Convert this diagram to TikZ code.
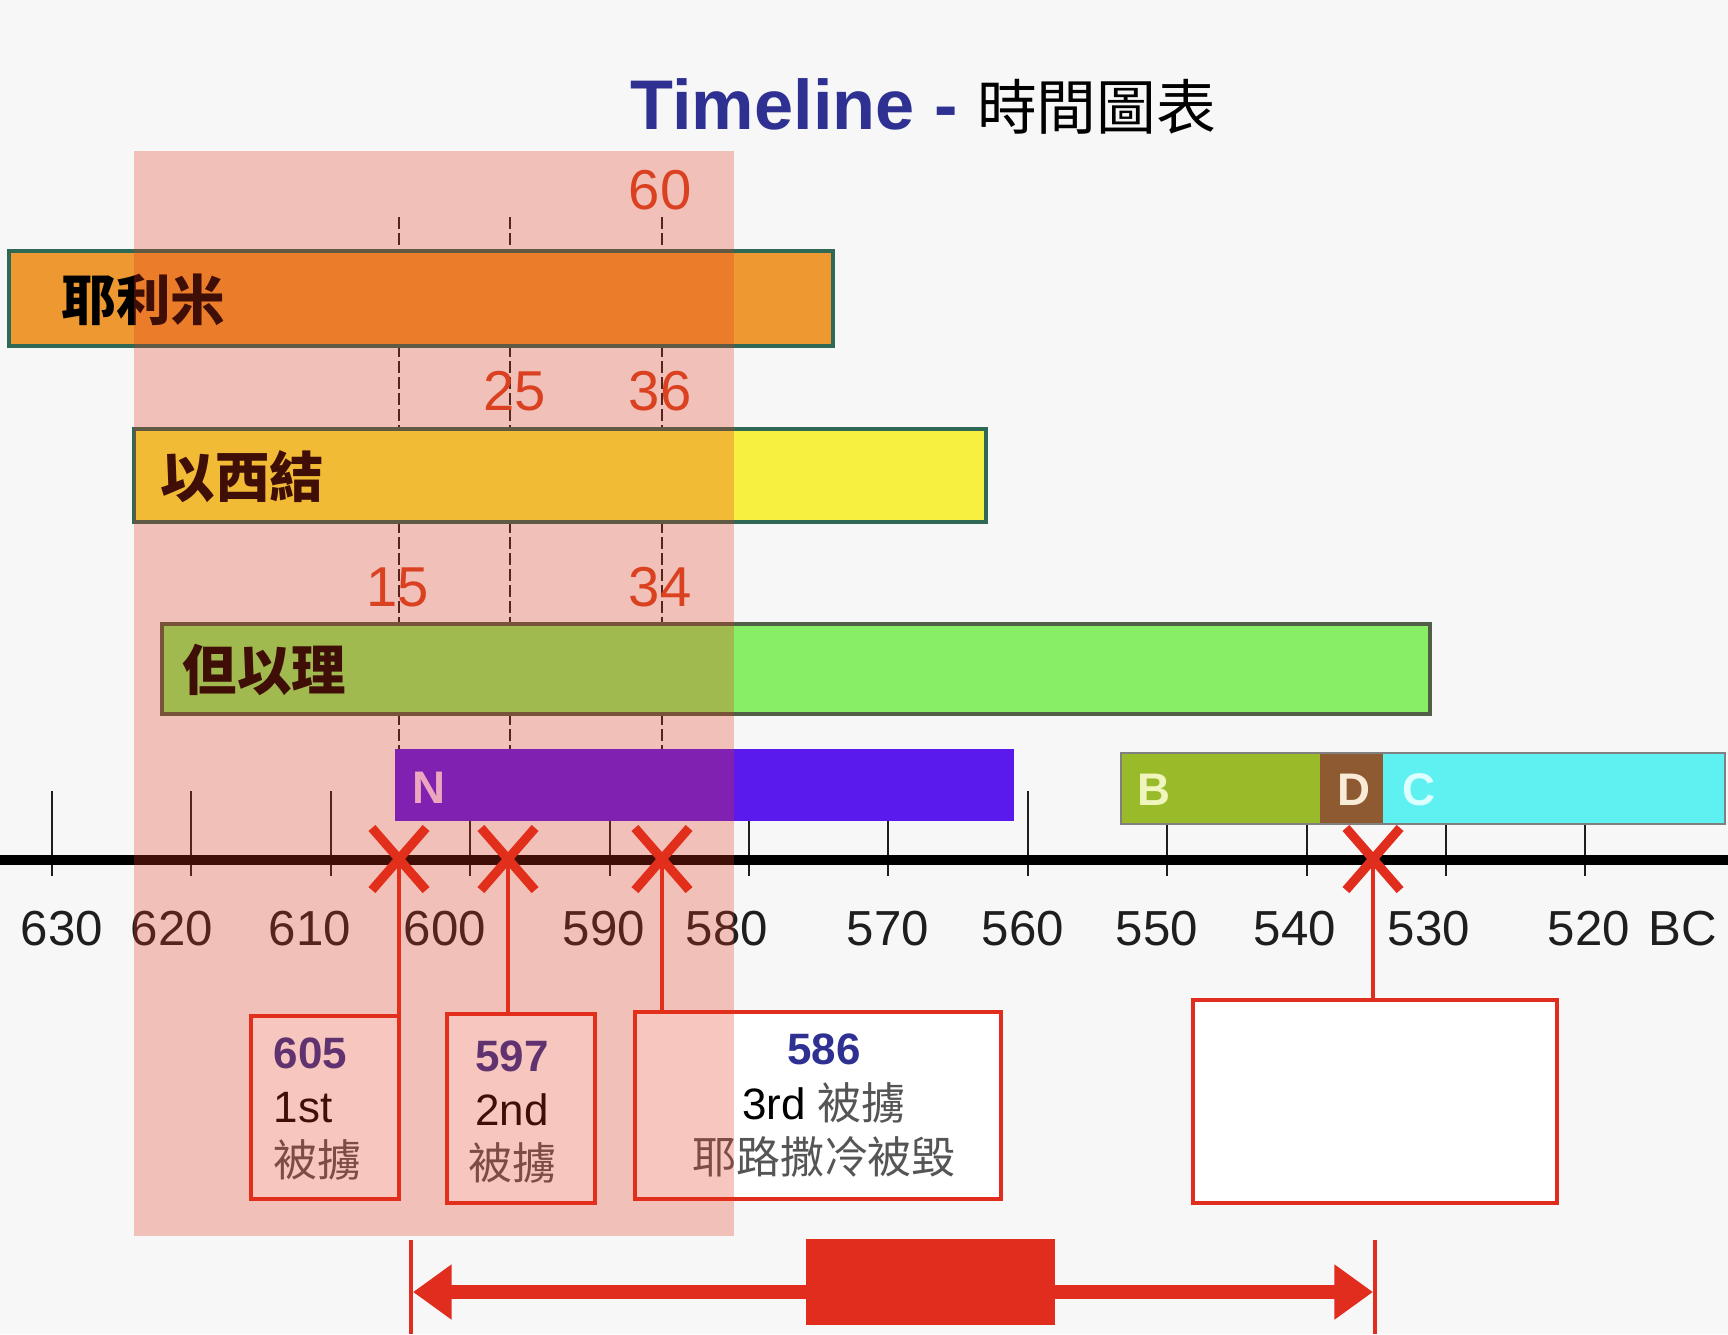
\documentclass[tikz,border=0pt]{standalone}
\usepackage{fontspec}
\setmainfont{Liberation Sans}
\newfontfamily\cjk{Noto Sans CJK TC}
\usetikzlibrary{arrows.meta,shapes.misc}
\definecolor{bgc}{RGB}{247,247,247}
\definecolor{navy}{RGB}{46,49,146}
\definecolor{orng}{RGB}{237,152,49}
\definecolor{tealb}{RGB}{45,105,85}
\definecolor{yel}{RGB}{248,240,64}
\definecolor{grn}{RGB}{136,238,102}
\definecolor{grnb}{RGB}{80,95,70}
\definecolor{nblue}{RGB}{90,26,238}
\definecolor{bgrn}{RGB}{153,187,42}
\definecolor{dbrn}{RGB}{142,90,50}
\definecolor{cyn}{RGB}{95,240,242}
\definecolor{mred}{RGB}{225,45,30}
\definecolor{spancol}{RGB}{229,53,25}
\definecolor{cntred}{RGB}{215,70,35}
\definecolor{axtxt}{RGB}{30,30,30}
\definecolor{soft}{RGB}{85,85,85}

\begin{document}
\begin{tikzpicture}[x=0.1mm,y=-0.1mm,every node/.style={font=\fontsize{14}{16}\selectfont}]
  \tikzset{
    bar/.style={line width=1.2pt},
    tag/.style={font=\cjk\bfseries\fontsize{15.5}{18}\selectfont, anchor=west, inner sep=0pt},
    lbl/.style={font=\bfseries\fontsize{13}{15}\selectfont, inner sep=0pt},
    yr/.style={font=\fontsize{14}{16}\selectfont, text=axtxt, inner sep=0pt},
    cnt/.style={font=\fontsize{16}{18}\selectfont, text=cntred, inner sep=0pt},
    xmark/.style={cross out, draw=mred, line width=2.6pt, minimum width=4.5mm, minimum height=5.3mm, inner sep=0pt},
    box/.style={draw=mred, line width=1.3pt, fill=white, inner sep=0pt},
    note/.style={font=\fontsize{12.5}{15.5}\selectfont, inner sep=0pt},
    link/.style={draw=mred, line width=1pt},
    bigarr/.style={draw=mred, line width=3.8pt, arrows={Triangle[length=11pt,width=15pt]-Triangle[length=11pt,width=15pt]}}
  }
  \useasboundingbox (0,0) rectangle (1728,1334);
  \fill[bgc] (0,0) rectangle (1728,1334);

  \node[anchor=base west, inner sep=0pt, font=\bfseries\fontsize{20}{24}\selectfont, text=navy] (title) at (630,129)
    {Timeline -~{\cjk\mdseries\fontsize{17}{20}\selectfont\color{black}時間圖表}};

  % guide lines behind the bars
  \foreach \x in {399,510,662}
    \draw[axtxt, line width=0.4pt, dash pattern=on 1.2mm off 0.4mm] (\x,217) -- (\x,749);

  \draw[bar, draw=tealb, fill=orng] (9,251) rectangle (833,346);
  \node[tag] (jer) at (61,300) {耶利米};
  \draw[bar, draw=tealb, fill=yel] (134,429) rectangle (986,522);
  \node[tag] (eze) at (160,477) {以西結};
  \draw[bar, line width=1pt, draw=grnb, fill=grn] (162,624) rectangle (1430,714);
  \node[tag] (dan) at (182,670) {但以理};

  \node[cnt] (n60) at (660,190) {60};
  \node[cnt] (n25) at (515,391) {25};
  \node[cnt] (n36) at (660,391) {36};
  \node[cnt] (n15) at (398,587) {15};
  \node[cnt] (n34) at (660,587) {34};

  % axis
  \foreach \y in {630,620,...,520}
    \draw[axtxt, line width=0.6pt] ({52+(630-\y)*13.94},791) -- ++(0,85);
  \fill[nblue] (395,749) rectangle (1014,821);
  \node[lbl, text={rgb,255:red,240;green,210;blue,255}] (nb) at (429,788) {N};
  \fill[bgrn] (1121,753) rectangle (1320,824);
  \fill[dbrn] (1320,753) rectangle (1383,824);
  \fill[cyn] (1383,753) rectangle (1725,824);
  \draw[gray, line width=0.5pt] (1121,753) rectangle (1725,824);
  \node[lbl, text={rgb,255:red,240;green,245;blue,190}] (bb) at (1154,790) {B};
  \node[lbl, text={rgb,255:red,250;green,235;blue,215}] (db) at (1354,790) {D};
  \node[lbl, text={rgb,255:red,220;green,255;blue,255}] (cb) at (1419,790) {C};
  \draw[black, line width=2.6pt] (0,860) -- (1728,860);

  \foreach \y/\lx in {630/62,620/172,610/310,600/445,590/604,580/727,570/888,560/1023,550/1157,540/1295,530/1429,520/1589}
    \node[yr] (l\y) at (\lx,929) {\y};
  \node[yr] (bc) at (1683,929) {BC};

  % events
  \node[box, minimum width=14.8mm, minimum height=18.3mm] (b605) at (325,1107.5) {};
  \node[box, minimum width=14.8mm, minimum height=18.9mm] (b597) at (521,1108.5) {};
  \node[box, minimum width=36.6mm, minimum height=18.7mm] (b586) at (818,1105.5) {};
  \node[box, minimum width=36.4mm, minimum height=20.3mm] (bret) at (1375,1101.5) {};

  \node[xmark] (x605) at (399,859) {};
  \node[xmark] (x597) at (508,859) {};
  \node[xmark] (x586) at (662,859) {};
  \node[xmark] (xret) at (1373,859) {};
  \draw[link] (x605.center) -- (x605.center |- b605.north);
  \draw[link] (x597.center) -- (x597.center |- b597.north);
  \draw[link] (x586.center) -- (x586.center |- b586.north);
  \draw[link] (xret.center) -- (xret.center |- bret.north);

  \node[note, anchor=west, align=left] (t605) at (273,1109)
    {{\bfseries\color{navy}605}\\1st\\{\cjk\color{soft}被擄}};
  \node[note, align=center] (t597) at (512,1112)
    {{\bfseries\color{navy}597}\\2nd\\{\cjk\color{soft}被擄}};
  \node[note, align=center] (t586) at (824,1106)
    {{\bfseries\color{navy}586}\\3rd {\cjk\color{soft}被擄}\\{\cjk\color{soft}耶路撒冷被毀}};

  % shaded span
  \fill[spancol, opacity=0.28] (134,151) rectangle (734,1236);

  \coordinate (lt) at (411,1240);
  \coordinate (lb) at (411,1334);
  \coordinate (rt) at (1375,1240);
  \coordinate (rb) at (1375,1334);
  \draw[link] (lt) -- (lb);
  \draw[link] (rt) -- (rb);
  \coordinate (aa) at (413,1292);
  \coordinate (ab) at (1373,1292);
  \draw[bigarr] (aa) -- (ab);
  \node[fill=mred, inner sep=0pt, minimum width=24.9mm, minimum height=8.6mm] (mid) at (930,1282) {};
\end{tikzpicture}
\end{document}
